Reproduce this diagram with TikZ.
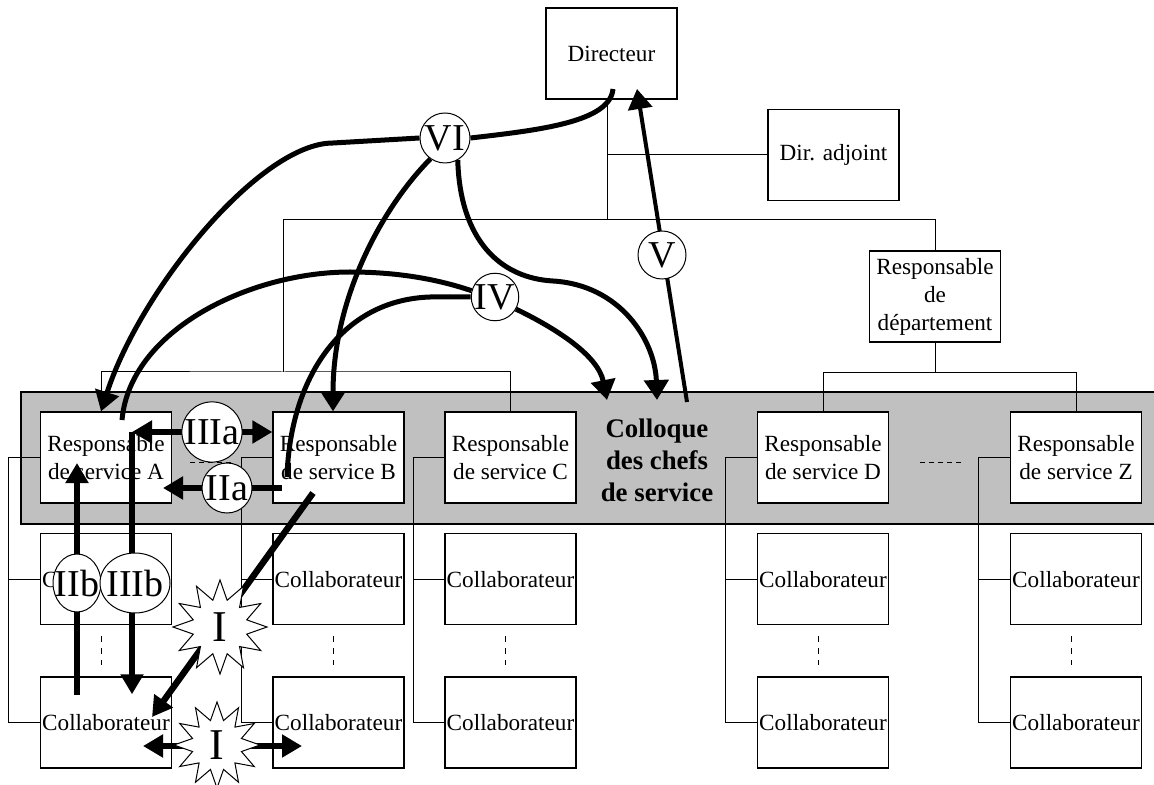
\documentclass[tikz,border=0pt]{standalone}
\usepackage{fontspec}
\setmainfont{Liberation Serif}
\usepackage{tikz}
\usetikzlibrary{arrows.meta,shapes,positioning}
\definecolor{bandgray}{RGB}{192,192,192}
\pgfdeclarelayer{background}
\pgfdeclarelayer{front}
\pgfsetlayers{background,main,front}
\tikzset{
	box/.style={
		rectangle,
		draw,
		line width=0.6pt,
		fill=white,
		minimum width=65.5pt,
		minimum height=45.5pt,
		inner sep=0pt,
		align=center,
		font=\fontsize{11.6}{14}\selectfont
	},
	stage/.style={
		circle,
		draw,
		line width=0.5pt,
		fill=white,
		inner sep=0pt,
		font=\fontsize{19}{19}\selectfont
	},
	blast/.style={
		star,
		star points=12,
		star point ratio=1.7,
		draw,
		line width=0.5pt,
		fill=white,
		inner sep=0pt,
		font=\fontsize{22}{22}\selectfont
	},
	tree/.style={line width=0.5pt},
	link/.style={line width=2.5pt},
	flow/.style={line width=2.5pt,-{Triangle[length=10pt,width=12pt]}},
	push/.style={line width=3.2pt,-{Triangle[length=10pt,width=11pt]}},
	both/.style={line width=3.2pt,{Triangle[length=10pt,width=11pt]}-{Triangle[length=10pt,width=11pt]}}
}

\begin{document}
\begin{tikzpicture}[x=0.5pt,y=0.5pt]
	\useasboundingbox (0,0) rectangle (1154,-785);
	\node [box] (dir) at (611.5,-53.5) {Directeur};
	\node [box] (adj) at (833.5,-155) {Dir. adjoint};
	\node [box] (dep) at (935,-296.5) {Responsable\\de\\département};
	\node [box] (A) at (106,-457.5) {Responsable\\de service A};
	\node [box] (B) at (338.5,-457.5) {Responsable\\de service B};
	\node [box] (C) at (510.5,-457.5) {Responsable\\de service C};
	\node [box] (D) at (823,-457.5) {Responsable\\de service D};
	\node [box] (Z) at (1076,-457.5) {Responsable\\de service Z};
	\foreach \s in {A,B,C,D,Z} {
		\node [box] (\s1) [below=14.75pt of \s] {Collaborateur};
		\node [box] (\s2) [below=25.5pt of \s1] {Collaborateur};
	}
	\node [font=\fontsize{13.4}{16}\selectfont\bfseries,align=center] (colloque) at (657,-460) {Colloque\\des chefs\\de service};

	\begin{pgfonlayer}{front}
		\node [stage,minimum size=25pt] (VI) at (445,-138) {VI};
		\node [stage,minimum size=23pt] (IV) at (495,-297) {IV};
		\node [stage,minimum size=24pt] (V) at (662,-255) {V};
		\node [stage,minimum size=30pt] (IIIa) at (212,-432) {IIIa};
		\node [stage,minimum size=25pt] (IIa) at (227,-488) {IIa};
		\node [stage,ellipse,minimum width=24pt,minimum height=29pt] (IIb) at (77,-583) {\makebox[0pt]{IIb}};
		\node [stage,ellipse,minimum width=35pt,minimum height=30pt] (IIIb) at (135,-583) {\makebox[0pt]{IIIb}};
		\node [blast,minimum size=47pt] (I1) at (220,-627) {I};
		\node [blast,minimum size=43pt] (I2) at (217,-745) {I};
	\end{pgfonlayer}

	\begin{pgfonlayer}{background}
		\fill [bandgray,draw=black,line width=0.6pt] (21,-392) rectangle (1170,-524);
		\coordinate (hub) at (607,-220);
		\coordinate (lefthub) at (283,-372);
		\draw [tree] (dir.south -| hub) -- (hub);
		\draw [tree] (adj.west) -- (adj.west -| hub);
		\draw [tree] (lefthub) -- (lefthub |- hub) -| (dep.north);
		\draw [tree] ([xshift=-2.5pt]A.north) |- (lefthub) -| (C.north);
		\draw [tree] (dep.south) -- ++(0,-30) coordinate (dephub);
		\draw [tree] (D.north) |- (dephub) -| (Z.north);
		\foreach \s in {A,B,C,D,Z} {
			\draw [tree] (\s.west) -- ++(-31,0) |- (\s2.west);
			\draw [tree] (\s1.west) -- ++(-31,0);
			\draw [tree,dashed,shorten <=5.5pt,shorten >=5.5pt] ([xshift=-2.5pt]\s1.south) -- ([xshift=-2.5pt]\s2.north);
		}
		\draw [tree,dash pattern=on 2.5pt off 2pt] ([xshift=9pt,yshift=-2.25pt]A.east) -- ([xshift=29.5pt,yshift=-2.25pt]A.east);
		\draw [tree,dash pattern=on 2.5pt off 2pt] ([xshift=15.5pt,yshift=-2.25pt]D.east) -- ([xshift=36pt,yshift=-2.25pt]D.east);
	\end{pgfonlayer}

	\coordinate (dirfoot) at (613,-89);
	\coordinate (vtip) at (637,-89);
	\coordinate (vfoot) at (687,-402);
	\coordinate (afoot) at (122,-420);
	\coordinate (bfoot) at (287,-477);
	\coordinate (ctipa) at (657,-400);
	\coordinate (ctipb) at (607,-400);
	\coordinate (t3) at (132,-432);
	\coordinate (b2foot) at (77,-695);
	\coordinate (b2tip) at (77,-463);
	\coordinate (a2foot) at (282,-488);
	\coordinate (a2tip) at (163,-488);
	\coordinate (i1foot) at (313,-493);
	\coordinate (i1tip) at (152,-717);
	\coordinate (i2left) at (143,-746);
	\coordinate (i2right) at (302,-746);

	\draw [link] (dirfoot) .. controls (610,-122) and (540,-130) .. (VI.east);
	\draw [flow] (VI.west) -- (333,-143) .. controls (260,-143) and (140,-290) .. ([xshift=-2.5pt]A.north);
	\draw [flow] (VI.235) .. controls (380,-210) and (333,-300) .. ([xshift=-2.75pt]B.north);
	\draw [flow] (VI.300) .. controls (460,-240) and (500,-278) .. (553,-281) .. controls (620,-285) and (655,-340) .. (ctipa);
	\draw [link] (afoot) .. controls (130,-330) and (250,-272) .. (350,-272) .. controls (400,-272) and (440,-280) .. (IV.165);
	\draw [link] (bfoot) .. controls (290,-380) and (340,-300) .. (430,-297) -- (IV.west);
	\draw [flow] (IV.330) .. controls (555,-328) and (598,-355) .. (ctipb);
	\draw [flow,line width=2pt] (vfoot) -- (vtip);
	\draw [both] (t3) -- (t3 -| B.west);
	\draw [push] (t3) -- ([yshift=-9pt]t3 |- A2.north);
	\draw [push] (b2foot) -- (b2tip);
	\draw [push] (a2foot) -- (a2tip);
	\draw [push] (i1foot) -- (i1tip);
	\draw [both] (i2left) -- (i2right);
\end{tikzpicture}
\end{document}
